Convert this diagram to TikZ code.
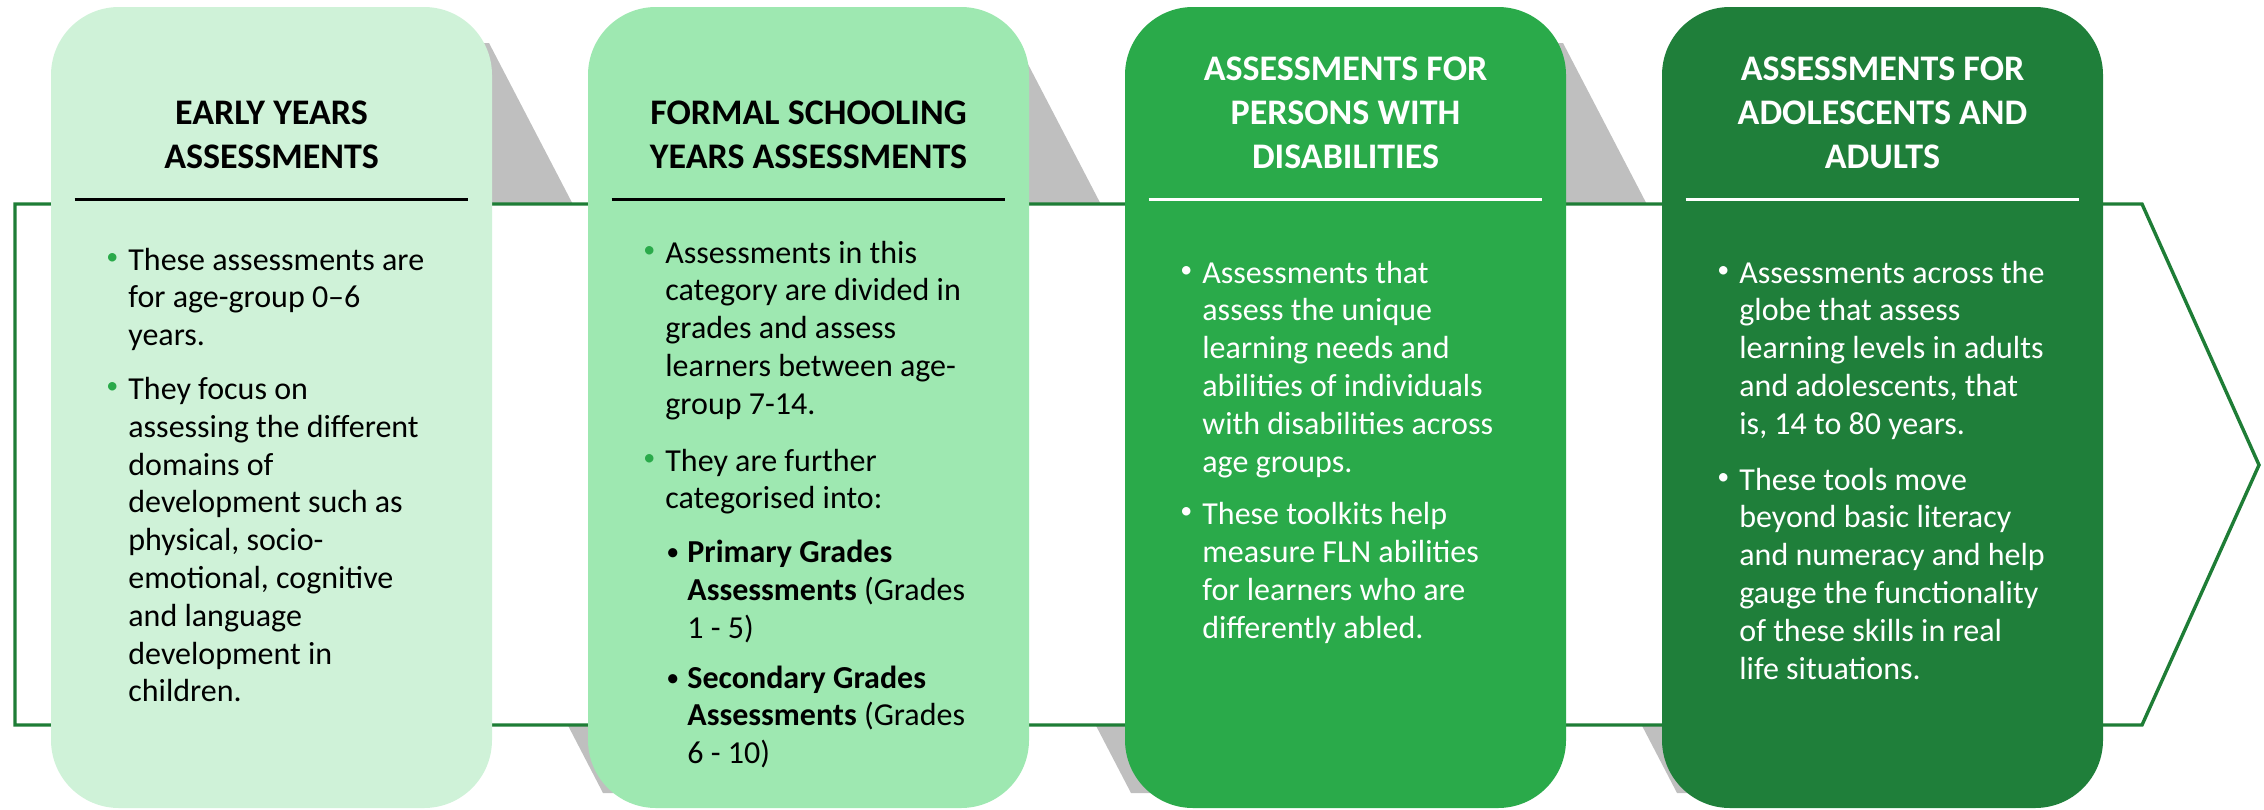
\documentclass[tikz,border=0pt]{standalone}
\usepackage{fontspec}
\setmainfont{Carlito}
\usepackage{xcolor}
\usepackage{tikz}
\usetikzlibrary{positioning, calc}

\definecolor{mintA}{HTML}{CFF2D8}
\definecolor{mintB}{HTML}{9EE8B1}
\definecolor{greenC}{HTML}{2AAA4A}
\definecolor{greenD}{HTML}{1F7F3A}
\definecolor{bandline}{HTML}{1E7D36}
\definecolor{foldgrey}{HTML}{BFBFBF}
\definecolor{dotgreen}{HTML}{2AAA4A}

% bullets: green / white first level, black second level
\newcommand{\gdot}{\makebox[13pt][l]{\hspace{2pt}\textcolor{dotgreen}{\raisebox{3pt}{\fontsize{12}{12}\selectfont •}}}}
\newcommand{\wdot}{\makebox[13pt][l]{\hspace{2pt}\textcolor{white}{\raisebox{3pt}{\fontsize{12}{12}\selectfont •}}}}
\newcommand{\kdot}{\makebox[11pt][l]{\hspace{0.5pt}\raisebox{1pt}{\fontsize{13}{13}\selectfont •}}}
\newcommand{\subind}{\hspace*{11pt}}

\tikzset{
  card/.style  = {rectangle, minimum width=220.5pt, minimum height=400.5pt,
                  rounded corners=34pt, inner sep=0pt},
  cardA/.style = {card, fill=mintA},
  cardB/.style = {card, fill=mintB},
  cardC/.style = {card, fill=greenC},
  cardD/.style = {card, fill=greenD},
  head/.style  = {align=center, anchor=base, inner sep=0pt,
                  font=\bfseries\fontsize{18}{22}\selectfont},
  body/.style  = {anchor=base west, inner sep=0pt, font=\fontsize{16}{18.9}\selectfont},
  hrule/.style = {line width=1.65pt},
  band/.style  = {draw=bandline, line width=1.7pt, fill=white},
  fold/.style  = {fill=foldgrey},
}

\begin{document}
\begin{tikzpicture}[x=0.5pt, y=-0.5pt]
    \useasboundingbox (0,0) rectangle (2264,809);

    %% ===================== FOLDS & BAND =====================
    \fill[fold] (214,43)  -- (489,43)  -- (879,793)  -- (603,793)  -- cycle;
    \fill[fold] (741,43)  -- (1017,43) -- (1407,793) -- (1131,793) -- cycle;
    \fill[fold] (1287,43) -- (1563,43) -- (1953,793) -- (1677,793) -- cycle;

    \draw[band] (15,204) -- (2142,204) -- (2259,465) -- (2142,725) -- (15,725) -- cycle;

    %% ===================== CARD 1 =====================
    \node[cardA] (early) at (271.5,407.5) {};
    \node[head] (earlyT) at (271.5,168) {EARLY YEARS\\ASSESSMENTS};
    \draw[hrule, black] ($(early.north west)+(24,193)$) -- ($(early.north east)+(-24,193)$);
    \node[body] (earlyB) at (102,270) {\begin{tabular}[t]{@{}l@{}l@{}}
      \gdot & These assessments are\\
            & for age-group 0–6\\
            & years.\\[8pt]
      \gdot & They focus on\\
            & assessing the different\\
            & domains of\\
            & development such as\\
            & physical, socio-\\
            & emotional, cognitive\\
            & and language\\
            & development in\\
            & children.
    \end{tabular}};

    %% ===================== CARD 2 =====================
    \node[cardB] (formal) at (808.5,407.5) {};
    \node[head] (formalT) at (808.5,168) {FORMAL SCHOOLING\\YEARS ASSESSMENTS};
    \draw[hrule, black] ($(formal.north west)+(24,193)$) -- ($(formal.north east)+(-24,193)$);
    \node[body] (formalB) at (639,263) {\begin{tabular}[t]{@{}l@{}l@{}}
      \gdot & Assessments in this\\
            & category are divided in\\
            & grades and assess\\
            & learners between age-\\
            & group 7-14.\\[9.5pt]
      \gdot & They are further\\
            & categorised into:\\[8pt]
            & \kdot\textbf{Primary Grades}\\
            & \subind\textbf{Assessments} (Grades\\
            & \subind 1 - 5)\\[6pt]
            & \kdot\textbf{Secondary Grades}\\
            & \subind\textbf{Assessments} (Grades\\
            & \subind 6 - 10)
    \end{tabular}};

    %% ===================== CARD 3 =====================
    \node[cardC] (pwd) at (1345.5,407.5) {};
    \node[head, text=white] (pwdT) at (1345.5,168) {ASSESSMENTS FOR\\PERSONS WITH\\DISABILITIES};
    \draw[hrule, white] ($(pwd.north west)+(24,193)$) -- ($(pwd.north east)+(-24,193)$);
    \node[body, text=white] (pwdB) at (1176,283) {\begin{tabular}[t]{@{}l@{}l@{}}
      \wdot & Assessments that\\
            & assess the unique\\
            & learning needs and\\
            & abilities of individuals\\
            & with disabilities across\\
            & age groups.\\[7.5pt]
      \wdot & These toolkits help\\
            & measure FLN abilities\\
            & for learners who are\\
            & differently abled.
    \end{tabular}};

    %% ===================== CARD 4 =====================
    \node[cardD] (adult) at (1882.5,407.5) {};
    \node[head, text=white] (adultT) at (1882.5,168) {ASSESSMENTS FOR\\ADOLESCENTS AND\\ADULTS};
    \draw[hrule, white] ($(adult.north west)+(24,193)$) -- ($(adult.north east)+(-24,193)$);
    \node[body, text=white] (adultB) at (1713,283) {\begin{tabular}[t]{@{}l@{}l@{}}
      \wdot & Assessments across the\\
            & globe that assess\\
            & learning levels in adults\\
            & and adolescents, that\\
            & is, 14 to 80 years.\\[9pt]
      \wdot & These tools move\\
            & beyond basic literacy\\
            & and numeracy and help\\
            & gauge the functionality\\
            & of these skills in real\\
            & life situations.
    \end{tabular}};

\end{tikzpicture}
\end{document}
